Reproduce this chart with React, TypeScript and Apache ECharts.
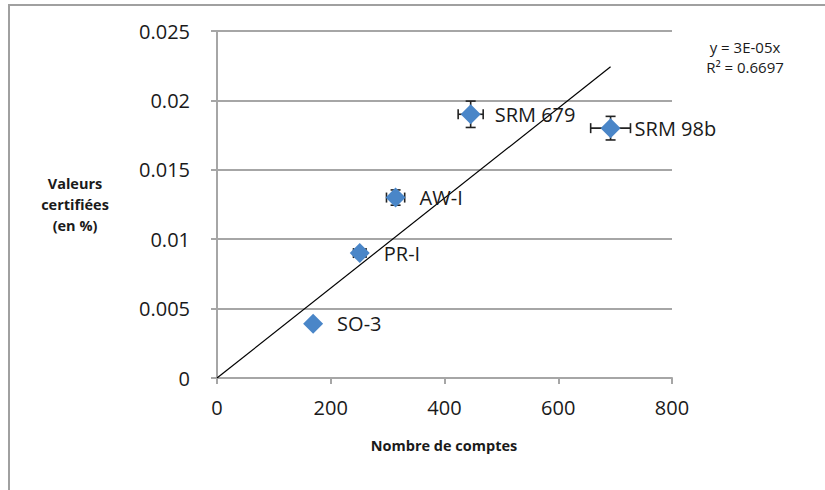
import React, { useEffect, useRef } from "react";
import * as echarts from "echarts";

const names = ["SO-3", "PR-I", "AW-I", "SRM 679", "SRM 98b"];
const counts = [169, 251, 314, 446, 692];
const certified = [0.0039, 0.009, 0.013, 0.019, 0.018];
const countErr = [5, 11, 16, 22, 35];
const certErr = [0.0001, 0.0003, 0.00055, 0.00095, 0.00085];
const trendX = [0, 692];
const trendY = [0, 0.02242];
const xTicks = [0, 200, 400, 600, 800];
const yTicks = [0, 0.005, 0.01, 0.015, 0.02, 0.025];

const FONT = "'Open Sans', sans-serif";
const GRID_COLOR = "#a6a6a6";
const TEXT = "#1a1a1a";

export default function App() {
  const ref = useRef<HTMLDivElement>(null);
  useEffect(() => {
    if (!ref.current) return;
    const chart = echarts.init(ref.current, undefined, { renderer: "svg" });
    const points = names.map((n, i) => ({ name: n, value: [counts[i], certified[i]] }));
    const errData = names.map((n, i) => [counts[i], certified[i], countErr[i], certErr[i]]);
    chart.setOption({
      animation: false,
      backgroundColor: "#ffffff",
      grid: { left: 217, top: 31, width: 455, height: 347, containLabel: false },
      xAxis: {
        type: "value",
        min: xTicks[0],
        max: xTicks[xTicks.length - 1],
        interval: 200,
        axisLine: { show: true, onZero: false, lineStyle: { color: GRID_COLOR, width: 2 } },
        axisTick: { show: true, length: 6, lineStyle: { color: GRID_COLOR, width: 2 } },
        splitLine: { show: false },
        axisLabel: { color: TEXT, fontFamily: FONT, fontSize: 20, margin: 19 },
      },
      yAxis: {
        type: "value",
        min: yTicks[0],
        max: yTicks[yTicks.length - 1],
        interval: 0.005,
        axisLine: { show: true, onZero: false, lineStyle: { color: GRID_COLOR, width: 2 } },
        axisTick: { show: true, length: 6, lineStyle: { color: GRID_COLOR, width: 2 } },
        splitLine: { show: true, lineStyle: { color: GRID_COLOR, width: 2 } },
        axisLabel: {
          color: TEXT,
          fontFamily: FONT,
          fontSize: 20,
          margin: 27,
          formatter: (v: number) => String(parseFloat(v.toFixed(4))),
        },
      },
      graphic: [
        {
          type: "rect",
          shape: { x: 9, y: 5, width: 900, height: 600 },
          style: { fill: "none", stroke: "#a0a0a0", lineWidth: 2 },
          silent: true,
        },
        {
          type: "text",
          x: 75,
          y: 204,
          style: {
            text: "Valeurs\ncertifiées\n(en %)",
            fill: TEXT,
            font: `bold 14.5px ${FONT}`,
            textAlign: "center",
            textVerticalAlign: "middle",
            lineHeight: 21,
          },
        },
        {
          type: "text",
          x: 444,
          y: 445,
          style: {
            text: "Nombre de comptes",
            fill: TEXT,
            font: `bold 14.5px ${FONT}`,
            textAlign: "center",
            textVerticalAlign: "middle",
          },
        },
        {
          type: "text",
          x: 745,
          y: 57,
          style: {
            text: "y = 3E-05x\nR² = 0.6697",
            fill: TEXT,
            font: `15px ${FONT}`,
            textAlign: "center",
            textVerticalAlign: "middle",
            lineHeight: 20,
          },
        },
      ],
      series: [
        {
          type: "line",
          data: trendX.map((x, i) => [x, trendY[i]]),
          symbol: "none",
          lineStyle: { color: "#000000", width: 1.2 },
          z: 3,
          silent: true,
        },
        {
          type: "custom",
          data: errData,
          z: 4,
          renderItem: (params: any, api: any) => {
            const x = api.value(0);
            const y = api.value(1);
            const ex = api.value(2);
            const ey = api.value(3);
            const left = api.coord([x - ex, y]);
            const right = api.coord([x + ex, y]);
            const top = api.coord([x, y + ey]);
            const bottom = api.coord([x, y - ey]);
            const cap = 5;
            const style = { stroke: "#222222", lineWidth: 1.6 };
            return {
              type: "group",
              children: [
                { type: "line", shape: { x1: left[0], y1: left[1], x2: right[0], y2: right[1] }, style },
                { type: "line", shape: { x1: left[0], y1: left[1] - cap, x2: left[0], y2: left[1] + cap }, style },
                { type: "line", shape: { x1: right[0], y1: right[1] - cap, x2: right[0], y2: right[1] + cap }, style },
                { type: "line", shape: { x1: top[0], y1: top[1], x2: bottom[0], y2: bottom[1] }, style },
                { type: "line", shape: { x1: top[0] - cap, y1: top[1], x2: top[0] + cap, y2: top[1] }, style },
                { type: "line", shape: { x1: bottom[0] - cap, y1: bottom[1], x2: bottom[0] + cap, y2: bottom[1] }, style },
              ],
            };
          },
        },
        {
          type: "scatter",
          data: points,
          symbol: "diamond",
          symbolSize: 20,
          itemStyle: { color: "#4A86C8", opacity: 1 },
          z: 5,
          label: {
            show: true,
            position: "right",
            distance: 14,
            formatter: (p: any) => p.name,
            color: TEXT,
            fontFamily: FONT,
            fontSize: 20,
          },
        },
      ],
    });
    return () => chart.dispose();
  }, []);
  return (
    <div
      ref={ref}
      style={{ position: "absolute", left: 0, top: 0, width: 825, height: 490 }}
    />
  );
}
